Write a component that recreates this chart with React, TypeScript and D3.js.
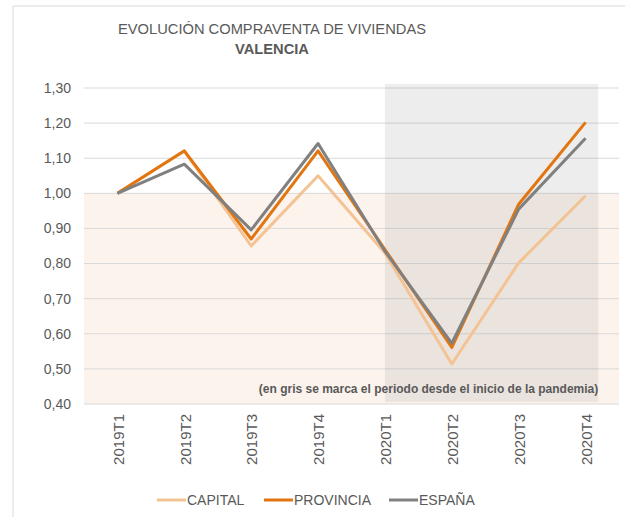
import * as d3 from "d3";

const categories = ["2019T1", "2019T2", "2019T3", "2019T4", "2020T1", "2020T2", "2020T3", "2020T4"];
const capital = [1.0, 1.12, 0.85, 1.05, 0.83, 0.514, 0.802, 0.993];
const provincia = [1.0, 1.121, 0.87, 1.121, 0.84, 0.561, 0.969, 1.202];
const espana = [1.0, 1.083, 0.896, 1.142, 0.835, 0.573, 0.955, 1.157];
const yTicks = [0.4, 0.5, 0.6, 0.7, 0.8, 0.9, 1.0, 1.1, 1.2, 1.3];
const pandemicFrom = "2020T1";
const pandemicTo = "2020T4";

const seriesList = [
  { name: "CAPITAL", values: capital, color: "#F4C393" },
  { name: "PROVINCIA", values: provincia, color: "#E2750F" },
  { name: "ESPAÑA", values: espana, color: "#808080" },
];

const width = 625;
const height = 517;
const margin = { left: 84, right: 6, top: 88, bottom: 113 };
const font = "'Liberation Sans', Arial, sans-serif";

export default function App() {
  const x = d3
    .scaleBand()
    .domain(categories)
    .range([margin.left, width - margin.right]);
  const y = d3
    .scaleLinear()
    .domain([0.4, 1.3])
    .range([height - margin.bottom, margin.top]);
  const cx = (c: string) => (x(c) ?? 0) + x.bandwidth() / 2;

  const line = d3
    .line<number>()
    .x((_, i) => cx(categories[i]))
    .y((d) => y(d));

  const fmt = (v: number) => v.toFixed(2).replace(".", ",");

  // grey block marking the pandemic period
  const greyX0 = cx(pandemicFrom);
  const greyX1 = cx(pandemicTo) + x.bandwidth() * 0.19;

  const legendX = [157, 264, 389];

  return (
    <svg
      width={width}
      height={height}
      style={{ position: "absolute", left: 0, top: 0, fontFamily: font }}
    >
      <rect x={0} y={0} width={width} height={height} fill="#fff" />
      <line x1={13} y1={6} x2={width} y2={6} stroke="#d9d9d9" />
      <line x1={13} y1={6} x2={13} y2={height} stroke="#d9d9d9" />

      <text x={272} y={34} textAnchor="middle" fontSize={14.7} fill="#595959">
        EVOLUCIÓN COMPRAVENTA DE VIVIENDAS
      </text>
      <text x={272} y={54} textAnchor="middle" fontSize={14.7} fontWeight="bold" fill="#595959">
        VALENCIA
      </text>

      {/* pink band below 1,00 */}
      <rect
        x={margin.left}
        y={y(1.0)}
        width={width - margin.right - margin.left}
        height={y(0.4) - y(1.0)}
        fill="#FCF3ED"
      />

      {yTicks.map((t) => (
        <g key={t}>
          <line
            x1={margin.left}
            x2={width - margin.right}
            y1={y(t)}
            y2={y(t)}
            stroke="#d9d9d9"
            strokeWidth={1}
          />
          <text
            x={71}
            y={y(t)}
            dy="0.35em"
            textAnchor="end"
            fontSize={14}
            fill="#595959"
          >
            {fmt(t)}
          </text>
        </g>
      ))}

      <rect
        x={greyX0}
        y={y(1.311)}
        width={greyX1 - greyX0}
        height={y(0.406) - y(1.311)}
        fill="rgba(150,150,150,0.17)"
      />

      {seriesList.map((s) => (
        <path
          key={s.name}
          d={line(s.values) ?? ""}
          fill="none"
          stroke={s.color}
          strokeWidth={3}
          strokeLinejoin="round"
        />
      ))}

      <text
        x={greyX1}
        y={y(0.43)}
        textAnchor="end"
        fontSize={12}
        fontWeight="bold"
        fill="#595959"
      >
        (en gris se marca el periodo desde el inicio de la pandemia)
      </text>

      {categories.map((c) => (
        <text
          key={c}
          transform={`translate(${cx(c) + 1},${y(0.4) + 10}) rotate(-90)`}
          dy="0.35em"
          textAnchor="end"
          fontSize={15}
          fill="#595959"
        >
          {c}
        </text>
      ))}

      {seriesList.map((s, i) => (
        <g key={s.name} transform={`translate(${legendX[i]},500)`}>
          <line x1={0} x2={29} y1={0} y2={0} stroke={s.color} strokeWidth={3} />
          <text x={30} y={0} dy="0.35em" fontSize={14} fill="#595959">
            {s.name}
          </text>
        </g>
      ))}
    </svg>
  );
}
